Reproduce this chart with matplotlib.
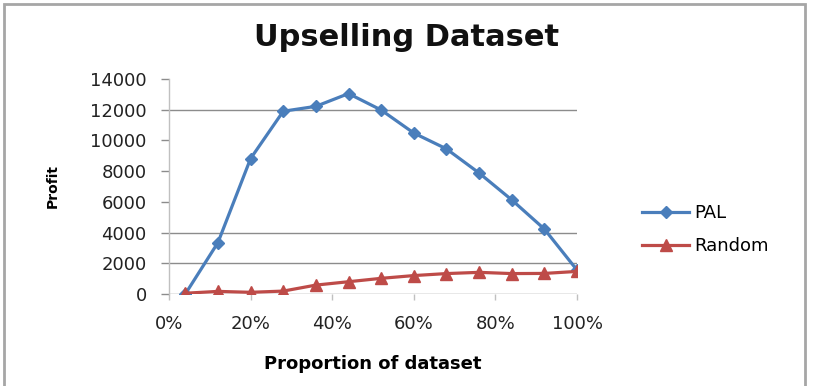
import matplotlib
matplotlib.use('Agg')
import matplotlib.pyplot as plt
from matplotlib.patches import Rectangle

# proportion of dataset (fraction) and profit values
proportion = [0.04, 0.12, 0.20, 0.28, 0.36, 0.44, 0.52, 0.60, 0.68, 0.76, 0.84, 0.92, 1.00]
pal = [0, 3350, 8820, 11900, 12220, 13050, 11980, 10480, 9450, 7880, 6130, 4230, 1560]
random_sel = [50, 170, 110, 190, 580, 800, 1020, 1200, 1330, 1410, 1330, 1340, 1470]

x_ticks = [0.0, 0.2, 0.4, 0.6, 0.8, 1.0]
x_labels = ['0%', '20%', '40%', '60%', '80%', '100%']
y_ticks = [0, 2000, 4000, 6000, 8000, 10000, 12000, 14000]
grid_values = [2000, 4000, 12000]

plt.rcParams['font.family'] = ['DejaVu Sans']

fig = plt.figure(figsize=(8.14, 3.86), dpi=100)
ax = fig.add_axes([169 / 814, 1 - 294 / 386, 408 / 814, 215 / 386])

axis_grey = '#8c8c8c'

# gridlines (only the ones that show in the picture)
for g in grid_values:
    ax.axhline(g, color=axis_grey, lw=1.0, zorder=1)
ax.axhline(0, color=axis_grey, lw=1.0, zorder=1)

ax.plot(proportion, pal, color='#4a7ebb', lw=2.3, marker='D', ms=6,
        label='PAL', zorder=3)
ax.plot(proportion, random_sel, color='#be4b48', lw=2.3, marker='^', ms=8,
        label='Random', zorder=3)

ax.set_xlim(0, 1)
ax.set_ylim(0, 14000)
ax.set_xticks(x_ticks)
ax.set_xticklabels(x_labels)
ax.set_yticks(y_ticks)
ax.set_yticklabels([str(v) for v in y_ticks])

for side in ['top', 'right', 'bottom']:
    ax.spines[side].set_visible(False)
ax.spines['left'].set_color('#c0c0c0')
ax.spines['left'].set_linewidth(1.0)

ax.tick_params(axis='y', length=6, width=1, color=axis_grey, pad=10,
               labelsize=13, labelcolor='#222222')
ax.tick_params(axis='x', length=4, width=1, color='#c0c0c0', pad=11,
               labelsize=13, labelcolor='#222222')

ax.set_xlabel('Proportion of dataset', fontsize=13, fontweight='bold', labelpad=16)
ax.set_ylabel('Profit', fontsize=10, fontweight='bold', labelpad=22)

fig.text(0.5, 1 - 38 / 386, 'Upselling Dataset', ha='center', va='center',
         fontsize=22, fontweight='bold', color='#111111')

leg = ax.legend(loc='center left', bbox_to_anchor=(1.12, 0.30), frameon=False,
                fontsize=13, handlelength=2.6, handletextpad=0.3,
                labelspacing=0.85)

# outer chart frame
fig.patches.append(Rectangle((4 / 814, -0.01), 801 / 814, 1 - 4 / 386 + 0.01,
                             transform=fig.transFigure, fill=False,
                             edgecolor='#a6a6a6', lw=2))

fig.savefig('out.png', dpi=100)
